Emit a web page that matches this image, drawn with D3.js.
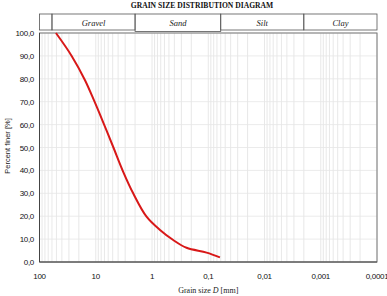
<!DOCTYPE html>
<html><head><meta charset="utf-8">
<script src="https://cdn.jsdelivr.net/npm/d3@7"></script>
<style>html,body{margin:0;padding:0;background:#fff;overflow:hidden}</style>
</head><body>
<svg id="c" width="387" height="296"></svg>
<script>
const title = "GRAIN SIZE DISTRIBUTION DIAGRAM";
const grainSize = [51, 26.8, 15.6, 10.5, 7.1, 4.85, 3.25, 2.16, 1.25, 0.72, 0.42, 0.243, 0.107, 0.062];
const percentFiner = [100, 90, 79.5, 70, 60, 50, 39.4, 30, 19.8, 14, 9.6, 6.2, 4.1, 2.0];
const xTicks = [100, 10, 1, 0.1, 0.01, 0.001, 0.0001];
const yTicks = [0, 10, 20, 30, 40, 50, 60, 70, 80, 90, 100];
const fractions = ["Gravel", "Sand", "Silt", "Clay"];
const fractionBounds = [60, 2, 0.06, 0.002, 0.0001];

const svg = d3.select("#c");
const L = 39.5, R = 377, T = 33, B = 262;
const x = d3.scaleLog().domain([100, 0.0001]).range([L, R]);
const y = d3.scaleLinear().domain([0, 100]).range([B, T]);
const fmtNum = v => String(v).replace(".", ",");

svg.append("text").attr("x", 202).attr("y", 7.5).attr("text-anchor", "middle")
  .attr("font-family", "Liberation Serif").attr("font-weight", "bold").attr("font-size", 7.6)
  .attr("fill", "#111").text(title);

// minor vertical grid
const minor = [];
for (let e = 2; e >= -4; e--) {
  for (let m = 1; m <= 9; m++) {
    const v = m * Math.pow(10, e - 1);
    if (v <= 100 && v >= 0.0001) minor.push(v);
  }
}
const g = svg.append("g");
g.selectAll("line.v").data(minor).join("line")
  .attr("x1", d => x(d)).attr("x2", d => x(d)).attr("y1", T).attr("y2", B)
  .attr("stroke", "#e2e2e2").attr("stroke-width", 0.8);
g.selectAll("line.h").data(yTicks).join("line")
  .attr("x1", L).attr("x2", R).attr("y1", d => y(d)).attr("y2", d => y(d))
  .attr("stroke", "#e6e6e6").attr("stroke-width", 0.8);

// frame
svg.append("rect").attr("x", L).attr("y", T).attr("width", R - L).attr("height", B - T)
  .attr("fill", "none").attr("stroke", "#777").attr("stroke-width", 1);
svg.append("line").attr("x1", L).attr("x2", L).attr("y1", T).attr("y2", B).attr("stroke", "#444");
svg.append("line").attr("x1", L).attr("x2", R).attr("y1", B).attr("y2", B).attr("stroke", "#444");

// header
const hTop = 14, hBot = 30;
svg.append("rect").attr("x", L).attr("y", hTop).attr("width", x(fractionBounds[0]) - L).attr("height", hBot - hTop)
  .attr("fill", "none").attr("stroke", "#555").attr("stroke-width", 0.8);
fractions.forEach((f, i) => {
  const x0 = x(fractionBounds[i]), x1 = i === fractions.length - 1 ? R : x(fractionBounds[i + 1]);
  const h = i === 1 ? hBot + 1.5 - hTop : hBot - hTop;
  svg.append("rect").attr("x", x0).attr("y", hTop).attr("width", x1 - x0).attr("height", h)
    .attr("fill", "none").attr("stroke", "#555").attr("stroke-width", 0.8);
  svg.append("text").attr("x", (x0 + x1) / 2).attr("y", 26).attr("text-anchor", "middle")
    .attr("font-family", "Liberation Serif").attr("font-style", "italic").attr("font-size", 8.5)
    .attr("fill", "#222").text(f);
});

// y tick labels
svg.selectAll("text.yt").data(yTicks).join("text")
  .attr("x", 34).attr("y", d => y(d) + 3).attr("text-anchor", "end")
  .attr("font-family", "Liberation Sans").attr("font-size", 8).attr("letter-spacing", -0.3)
  .attr("fill", "#111").text(d => d3.format(".1f")(d).replace(".", ","));

// x tick labels
svg.selectAll("text.xt").data(xTicks).join("text")
  .attr("x", d => x(d)).attr("y", 279).attr("text-anchor", "middle")
  .attr("font-family", "Liberation Sans").attr("font-size", 8).attr("letter-spacing", -0.3)
  .attr("fill", "#111").text(d => fmtNum(d));

// axis titles
svg.append("text").attr("transform", `translate(10,146) rotate(-90)`).attr("text-anchor", "middle")
  .attr("font-family", "Liberation Sans").attr("font-size", 7.5).attr("fill", "#222").text("Percent finer  [%]");
const xl = svg.append("text").attr("x", (L + R) / 2).attr("y", 293).attr("text-anchor", "middle")
  .attr("font-family", "Liberation Serif").attr("font-size", 8).attr("fill", "#222");
xl.append("tspan").text("Grain size  ");
xl.append("tspan").attr("font-style", "italic").text("D");
xl.append("tspan").text("  [mm]");

// curve
const pts = grainSize.map((d, i) => [d, percentFiner[i]]);
svg.append("path").datum(pts)
  .attr("d", d3.line().x(d => x(d[0])).y(d => y(d[1])).curve(d3.curveCatmullRom.alpha(0.5)))
  .attr("fill", "none").attr("stroke", "#d81818").attr("stroke-width", 2);
</script>
</body></html>
